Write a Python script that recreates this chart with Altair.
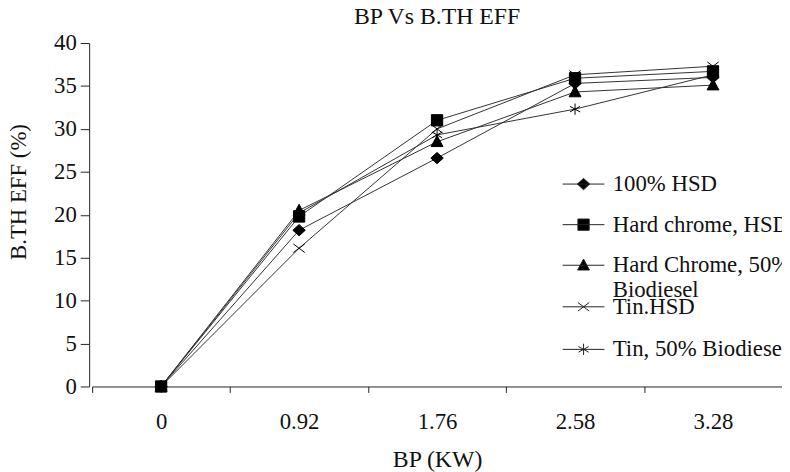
import altair as alt
import pandas as pd

bp = ["0", "0.92", "1.76", "2.58", "3.28"]
series = ["100% HSD", "Hard chrome, HSD", "Hard Chrome, 50% Biodiesel",
          "Tin.HSD", "Tin, 50% Biodiesel"]
hsd_100 = [0, 18.2, 26.6, 35.3, 36.0]
chrome_hsd = [0, 19.8, 31.0, 35.9, 36.7]
chrome_bio = [0, 20.5, 28.5, 34.3, 35.1]
tin_hsd = [0, 16.1, 30.0, 36.3, 37.3]
tin_bio = [0, 20.2, 29.3, 32.3, 36.3]
y_ticks = [0, 5, 10, 15, 20, 25, 30, 35, 40]

rows = []
for name, vals in zip(series, [hsd_100, chrome_hsd, chrome_bio, tin_hsd, tin_bio]):
    for b, v in zip(bp, vals):
        rows.append({"bp": b, "eff": v, "series": name})
df = pd.DataFrame(rows)

FONT = "Liberation Serif"
marker_paths = [
    "M-1.1,0L0,-1L1.1,0L0,1Z",
    "M-1,-1H1V1H-1Z",
    "M0,-1.1L1.05,0.85H-1.05Z",
    "M-1,-0.75L1,0.75M-1,0.75L1,-0.75",
    "M0,-1V1M-0.9,-0.5L0.9,0.5M-0.9,0.5L0.9,-0.5",
]
legend_paths = ["M-3.7,0H3.7" + p for p in marker_paths]

x = alt.X("bp:N", sort=bp, title="BP (KW)",
          scale=alt.Scale(type="band", domain=bp, paddingInner=0, paddingOuter=0),
          axis=alt.Axis(labelAngle=0, tickBand="extent", labelFont=FONT, labelFontSize=23,
                        labelColor="#111", titleFont=FONT, titleFontSize=24,
                        titleFontWeight="normal", titleColor="#111", titleY=81,
                        titleBaseline="alphabetic", domainColor="#222", tickColor="#222",
                        tickSize=6, labelPadding=18))
y = alt.Y("eff:Q", title="B.TH EFF (%)",
          scale=alt.Scale(domain=[0, 40], nice=False),
          axis=alt.Axis(values=y_ticks, grid=False, offset=3, labelFont=FONT, labelFontSize=23,
                        labelColor="#111", titleFont=FONT, titleFontSize=23,
                        titleFontWeight="normal", titleColor="#111", titleAngle=270,
                        titleX=-71, titleY=150, titleAlign="center", titleBaseline="middle",
                        domainColor="#222", tickColor="#222", tickSize=9, labelPadding=4))

base = alt.Chart(df)

lines = base.mark_line(color="#333", strokeWidth=1).encode(
    x=x, y=y, detail="series:N")

points = base.mark_point(filled=True, fill="black", stroke="black", strokeWidth=1,
                         size=130, opacity=1).encode(
    x=x, y=y,
    shape=alt.Shape("series:N", scale=alt.Scale(domain=series, range=marker_paths),
                    legend=None))

label_expr = ("datum.label == 'Hard Chrome, 50% Biodiesel' ? "
              "['Hard Chrome, 50%', 'Biodiesel'] : datum.label")


def legend_part(names, paths, legend_y, row_pad):
    leg = alt.Legend(title=None, orient="none", legendX=485, legendY=legend_y,
                     symbolSize=130, labelFont=FONT, labelFontSize=23,
                     labelColor="#111", labelOffset=18, rowPadding=row_pad,
                     symbolStrokeWidth=1, symbolOpacity=1, labelLimit=400,
                     labelExpr=label_expr)
    return base.transform_filter("false").mark_point(
        filled=False, fill="black", strokeWidth=1, size=130, opacity=1).encode(
        shape=alt.Shape("series:N", scale=alt.Scale(domain=names, range=paths), legend=leg),
        color=alt.Color("series:N", scale=alt.Scale(domain=names, range=["#222"] * len(names)),
                        legend=leg))


legend_a = legend_part(series[:3], legend_paths[:3], 131, 17)
legend_b = legend_part(series[3:], legend_paths[3:], 255, 19)

chart = alt.layer(lines, points, legend_a, legend_b).resolve_scale(
    shape="independent", color="independent").resolve_legend(
    shape="independent", color="independent").properties(
    width=697, height=347,
    autosize=alt.AutoSizeParams(type="none"),
    padding={"left": 85, "top": 33, "right": 0, "bottom": 84},
    title=alt.Title("BP Vs B.TH EFF", font=FONT, fontSize=24, fontWeight="normal",
                    color="#111", anchor="middle", offset=3),
    background="white",
).configure_view(stroke=None)

chart.save("out.html", embed_options={"renderer": "svg", "actions": False})
